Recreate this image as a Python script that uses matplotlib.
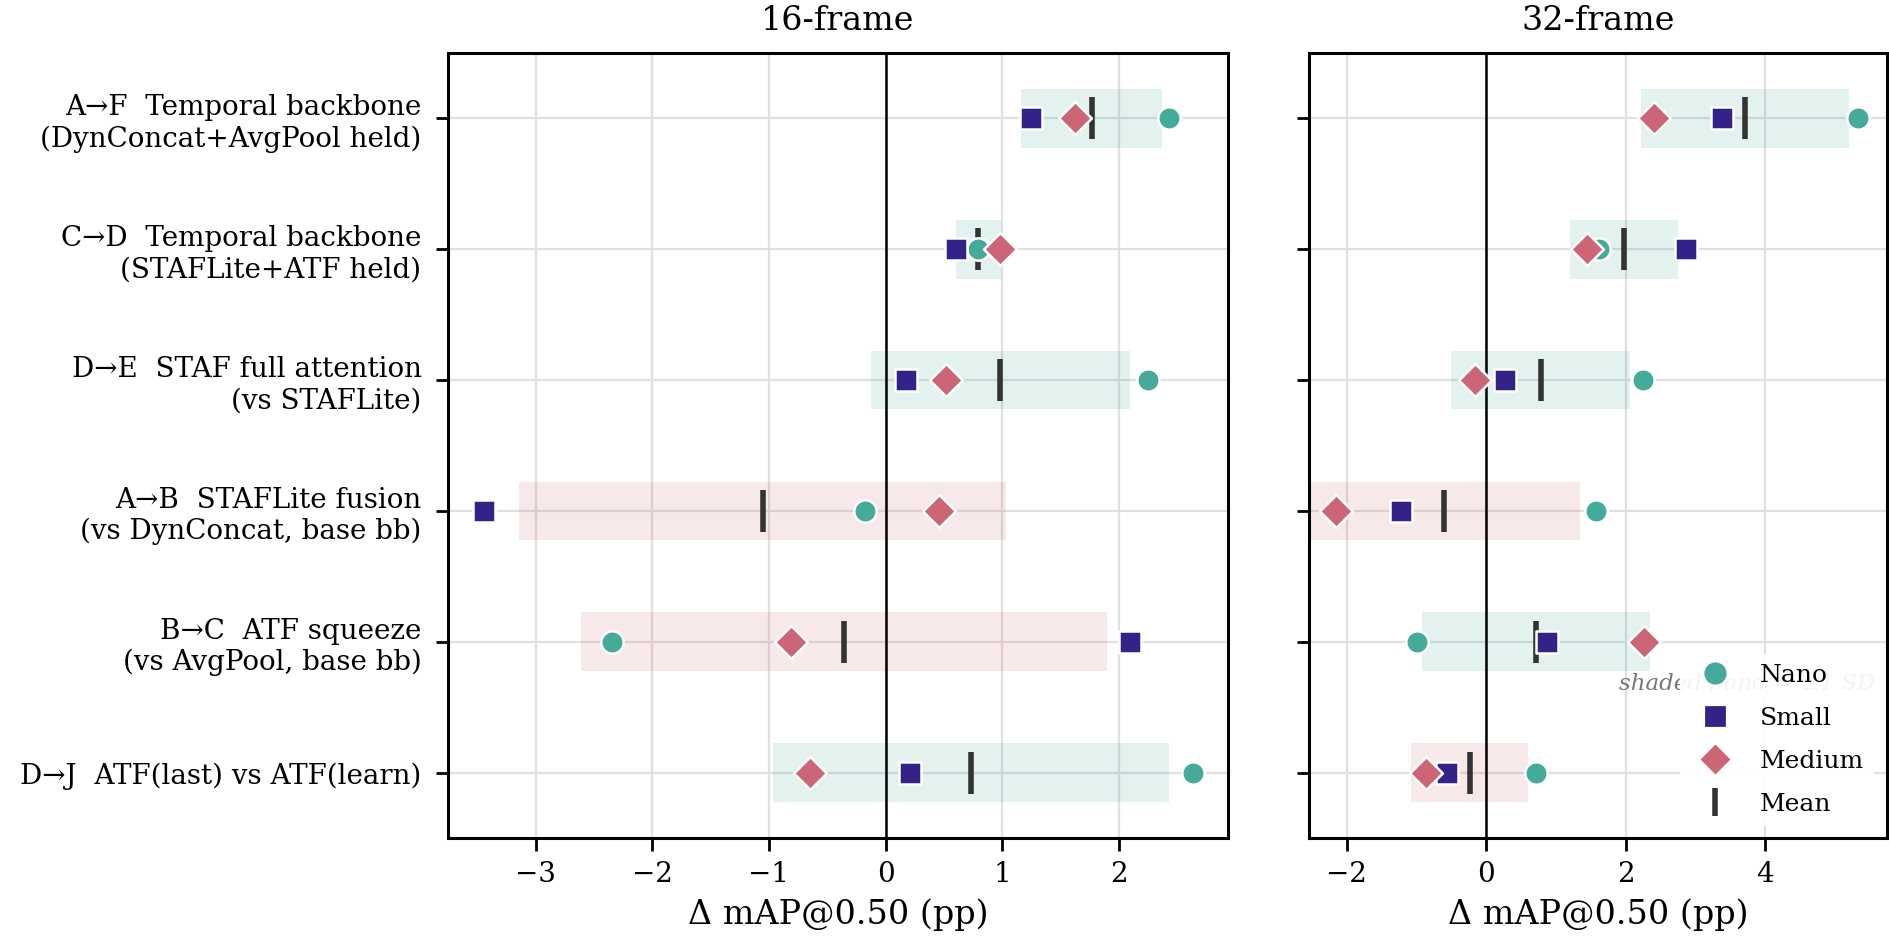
import numpy as np
import matplotlib
matplotlib.use("Agg")
import matplotlib.pyplot as plt
from matplotlib.lines import Line2D

plt.rcParams['font.family'] = ['DejaVu Serif']

rows = [
    "A\u2192F  Temporal backbone\n(DynConcat+AvgPool held)",
    "C\u2192D  Temporal backbone\n(STAFLite+ATF held)",
    "D\u2192E  STAF full attention\n(vs STAFLite)",
    "A\u2192B  STAFLite fusion\n(vs DynConcat, base bb)",
    "B\u2192C  ATF squeeze\n(vs AvgPool, base bb)",
    "D\u2192J  ATF(last) vs ATF(learn)",
]

# 16-frame deltas (pp)
nano_16   = [2.43, 0.795, 2.245, -0.179, -2.345, 2.63]
small_16  = [1.245, 0.603, 0.175, -3.44, 2.092, 0.21]
medium_16 = [1.62, 0.983, 0.52, 0.454, -0.808, -0.646]

# 32-frame deltas (pp)
nano_32   = [5.34, 1.613, 2.242, 1.575, -0.995, 0.715]
small_32  = [3.38, 2.866, 0.263, -1.22, 0.866, -0.565]
medium_32 = [2.41, 1.446, -0.161, -2.156, 2.263, -0.871]

xticks_16 = [-3, -2, -1, 0, 1, 2]
xticks_32 = [-2, 0, 2, 4]
xlim_16 = (-3.75, 2.93)
xlim_32 = (-2.54, 5.745)

C_NANO = '#44AA99'
C_SMALL = '#332288'
C_MED = '#CC6677'
C_MEAN = '#333333'

W, H, DPI = 1889, 951, 200
fig = plt.figure(figsize=(W / DPI, H / DPI), dpi=DPI)
ax1 = fig.add_axes([448 / W, 1 - 838.3 / H, 779.7 / W, 785.6 / H])
ax2 = fig.add_axes([1309.3 / W, 1 - 838.3 / H, 577.4 / W, 785.6 / H])

panels = [
    (ax1, "16-frame", nano_16, small_16, medium_16, xticks_16, xlim_16),
    (ax2, "32-frame", nano_32, small_32, medium_32, xticks_32, xlim_32),
]

y = np.arange(len(rows))
for ax, title, nano, small, med, xt, xl in panels:
    vals = np.array([nano, small, med])
    means = vals.mean(axis=0)
    sds = vals.std(axis=0, ddof=1)
    for yi, m, s in zip(y, means, sds):
        col = C_NANO if m >= 0 else C_MED
        ax.barh(yi, 2 * s, left=m - s, height=0.45, color=col, alpha=0.15,
                edgecolor='none', zorder=1)
    ax.axvline(0, color='black', lw=0.9, zorder=2)
    ax.scatter(nano, y, marker='o', s=65, color=C_NANO, edgecolors='white',
               linewidths=0.9, zorder=4)
    ax.scatter(small, y, marker='s', s=62, color=C_SMALL, edgecolors='white',
               linewidths=0.9, zorder=4)
    ax.scatter(med, y, marker='D', s=70, color=C_MED, edgecolors='white',
               linewidths=0.9, zorder=5)
    ax.scatter(means, y, marker='|', s=230, color=C_MEAN, linewidths=2.0,
               zorder=3)
    ax.set_xlim(*xl)
    ax.set_ylim(len(rows) - 0.5, -0.5)
    ax.set_xticks(xt)
    ax.set_yticks(y)
    ax.grid(True, color='#e0e0e0', lw=0.8, zorder=0)
    ax.set_axisbelow(True)
    ax.set_title(title, fontsize=12, pad=8)
    ax.set_xlabel("\u0394 mAP@0.50 (pp)", fontsize=12)
    ax.tick_params(axis='both', labelsize=10, length=4.5, width=1.0)
    ax.tick_params(axis='y', pad=5)
    for sp in ax.spines.values():
        sp.set_linewidth(1.1)

ax1.set_yticklabels(rows)
ax2.set_yticklabels([])

ax2.text(0.98, 0.196, "shaded band = \u00b11 SD", transform=ax2.transAxes,
         ha='right', va='center', fontsize=8.25, style='italic', color='#777777',
         zorder=6)

handles = [
    Line2D([], [], ls='', marker='o', ms=7, color=C_NANO, label='Nano'),
    Line2D([], [], ls='', marker='s', ms=6.5, color=C_SMALL, label='Small'),
    Line2D([], [], ls='', marker='D', ms=6.5, color=C_MED, label='Medium'),
    Line2D([], [], ls='', marker='|', ms=10, mew=2, color=C_MEAN, label='Mean'),
]
leg = ax2.legend(handles=handles, loc='lower right', fontsize=9,
                 labelspacing=0.8, frameon=True, framealpha=0.92,
                 facecolor='white', edgecolor='none')
leg.set_zorder(10)

fig.savefig("out.png", dpi=DPI)
